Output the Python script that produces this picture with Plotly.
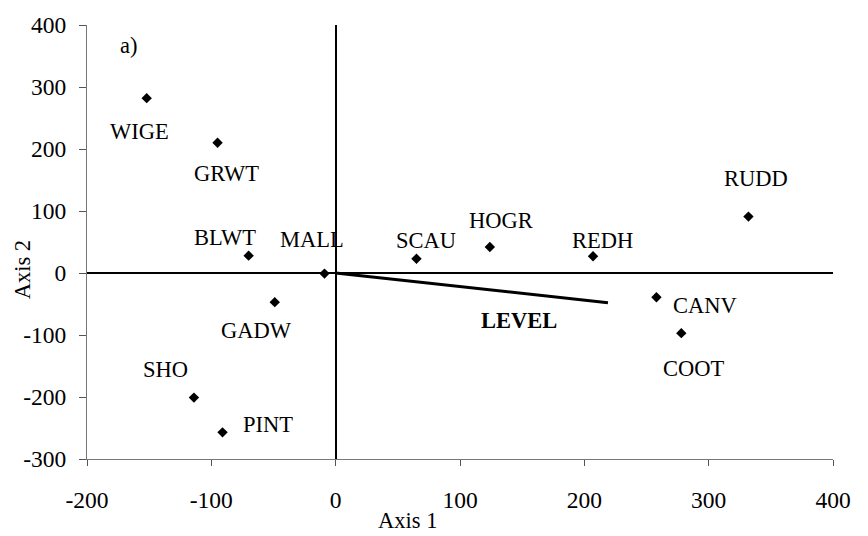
import plotly.graph_objects as go

species = ["WIGE", "GRWT", "BLWT", "MALL", "SCAU", "HOGR", "REDH", "RUDD",
           "GADW", "SHO", "PINT", "CANV", "COOT"]
axis1 = [-152, -95, -70, -9, 65, 124, 207, 332, -49, -114, -91, 258, 278]
axis2 = [282, 210, 28, -1, 23, 42, 27, 91, -47, -201, -257, -39, -97]
# label offsets in pixels (dx right, dy up)
label_dx = [-7, 9, -24, -12, 10, 11, 9, 8, -18, -28, 45, 49, 13]
label_dy = [-33, -31, 18, 34, 18, 26, 16, 38, -28, 28, 8, -8, -35]

vector_name = "LEVEL"
vector_x = [0, 219]
vector_y = [0, -48]

x_ticks = [-200, -100, 0, 100, 200, 300, 400]
x_tick_labels = ["-200", "-100", "0", "100", "200", "300", "400"]
y_ticks = [-300, -200, -100, 0, 100, 200, 300, 400]
y_tick_labels = ["-300", "-200", "-100", "0", "100", "200", "300", "400"]

FONT = "Liberation Serif, Times New Roman, serif"
LBL = 22.5

fig = go.Figure()
fig.add_trace(go.Scatter(x=vector_x, y=vector_y, mode="lines",
                         line=dict(color="black", width=3), hoverinfo="skip"))
fig.add_trace(go.Scatter(x=axis1, y=axis2, mode="markers",
                         marker=dict(symbol="diamond", size=8, color="black"),
                         text=species))

annotations = []
for s, x, y, dx, dy in zip(species, axis1, axis2, label_dx, label_dy):
    annotations.append(dict(x=x, y=y, xref="x", yref="y", text=s, showarrow=False,
                            xshift=dx, yshift=dy, xanchor="center", yanchor="middle",
                            font=dict(family=FONT, size=LBL, color="black")))
annotations.append(dict(x=vector_x[-1], y=vector_y[-1], xref="x", yref="y",
                        text="<b>" + vector_name + "</b>", showarrow=False,
                        xshift=-89, yshift=-18, xanchor="center", yanchor="middle",
                        font=dict(family=FONT, size=LBL, color="black")))
annotations.append(dict(x=0.056, y=0.953, xref="paper", yref="paper", text="a)",
                        showarrow=False, xanchor="center", yanchor="middle",
                        font=dict(family=FONT, size=LBL, color="black")))
annotations.append(dict(x=0.429, y=-0.142, xref="paper", yref="paper", text="Axis 1",
                        showarrow=False, xanchor="center", yanchor="middle",
                        font=dict(family=FONT, size=LBL, color="black")))
annotations.append(dict(x=-0.087, y=0.435, xref="paper", yref="paper", text="Axis 2",
                        showarrow=False, xanchor="center", yanchor="middle", textangle=-90,
                        font=dict(family=FONT, size=LBL, color="black")))

fig.update_layout(
    width=868, height=536,
    margin=dict(l=87, r=35, t=16, b=77),
    paper_bgcolor="white", plot_bgcolor="white",
    showlegend=False,
    annotations=annotations,
    xaxis=dict(range=[-200, 400], tickvals=x_ticks, ticktext=x_tick_labels, showgrid=False,
               zeroline=True, zerolinecolor="black", zerolinewidth=2,
               showline=True, linecolor="#777", linewidth=1,
               ticks="outside", ticklen=6, tickcolor="#555",
               ticklabelstandoff=14,
               tickfont=dict(family=FONT, size=23.5, color="black")),
    yaxis=dict(range=[-300, 400], tickvals=y_ticks, ticktext=y_tick_labels, showgrid=False,
               zeroline=True, zerolinecolor="black", zerolinewidth=2,
               showline=True, linecolor="#777", linewidth=1,
               ticks="outside", ticklen=7, tickcolor="#555",
               ticklabelstandoff=8,
               tickfont=dict(family=FONT, size=23.5, color="black")),
)

fig.write_html("out.html")
